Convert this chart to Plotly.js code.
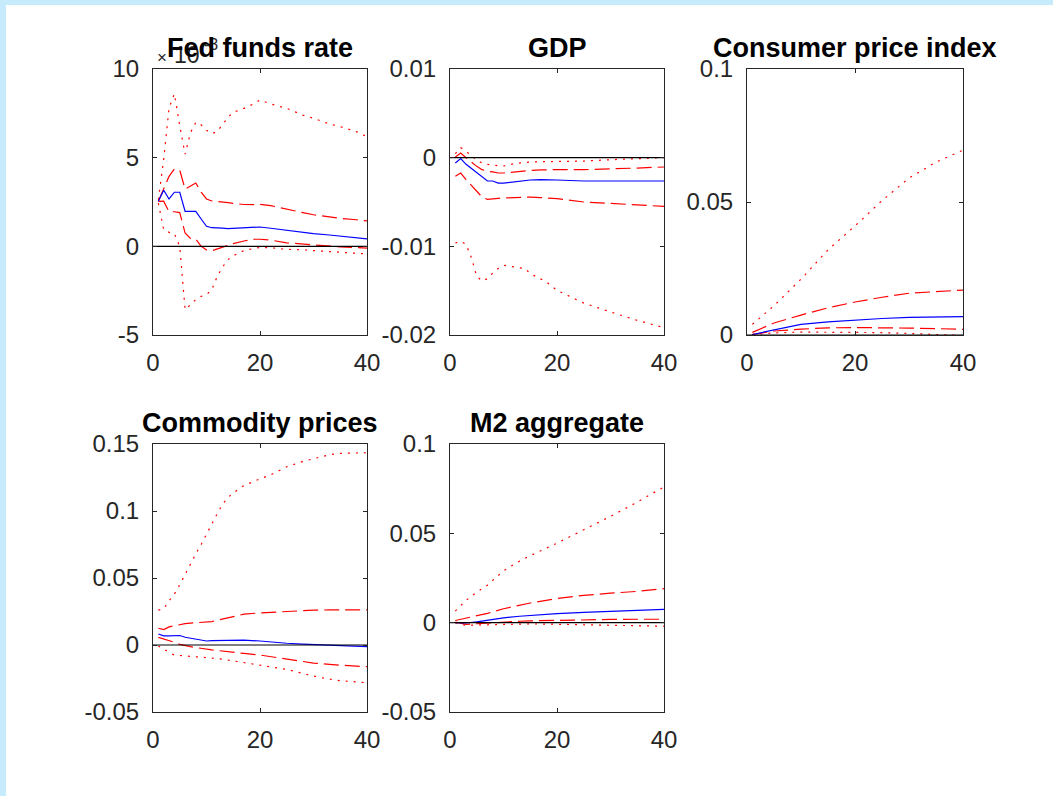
<!DOCTYPE html>
<html>
<head>
<meta charset="utf-8">
<script src="https://cdn.plot.ly/plotly-3.0.1.min.js"></script>
<style>
  html, body { margin: 0; padding: 0; background: #ffffff; }
  #chart { width: 1053px; height: 796px; }
</style>
</head>
<body>
<div id="chart"></div>
<script>
// ---- Impulse responses: median (blue), 68% band (dashed), 90% band (dotted) ----

// Fed funds rate (values in units of 1e-3)
const fedH = [1,2,3,4,5,6,7,8,9,10,11,12,13,14,15,17,19,20,22,25,28,30,33,35,38,40];
const fedMedian = [2.54,3.16,2.67,3.05,3.05,1.97,1.97,1.97,1.54,1.13,1.05,1.05,1.03,1.0,1.02,1.07,1.1,1.09,1.02,0.9,0.78,0.72,0.64,0.58,0.5,0.42];
const fedUp68 = [2.54,3.3,3.95,4.36,4.29,3.23,3.38,3.57,3.06,2.67,2.56,2.54,2.5,2.46,2.42,2.36,2.35,2.37,2.3,2.08,1.9,1.78,1.65,1.58,1.5,1.43];
const fedLo68 = [2.54,2.55,1.95,1.95,1.9,0.75,0.45,0.4,0.0,-0.2,-0.25,-0.15,-0.05,0.05,0.15,0.3,0.4,0.4,0.35,0.2,0.12,0.08,0.0,-0.03,-0.07,-0.1];
const fedUp90 = [2.63,4.9,7.8,8.6,6.8,5.2,6.4,7.0,6.85,6.54,6.35,6.48,6.86,7.27,7.56,7.78,8.06,8.25,8.03,7.78,7.4,7.22,6.9,6.75,6.47,6.18];
const fedLo90 = [2.44,0.94,0.79,0.71,0.0,-3.57,-3.3,-3.0,-2.82,-2.73,-2.44,-1.7,-1.17,-0.75,-0.53,-0.24,-0.11,-0.06,-0.08,-0.17,-0.2,-0.24,-0.3,-0.34,-0.4,-0.43];

// GDP
const gdpH = [1,2,3,4,5,6,7,8,9,10,12,14,15,17,18,20,25,30,35,40];
const gdpMedian = [-0.0006,-0.00011,-0.00075,-0.00124,-0.00173,-0.00218,-0.00263,-0.00263,-0.00286,-0.00286,-0.0027,-0.00258,-0.00252,-0.00248,-0.00248,-0.00252,-0.00263,-0.00263,-0.00263,-0.00263];
const gdpUp68 = [0.00008,0.00053,0.0,-0.0005,-0.00098,-0.00135,-0.00154,-0.0016,-0.00173,-0.00173,-0.0016,-0.0015,-0.00143,-0.00138,-0.00136,-0.00135,-0.00135,-0.00128,-0.00117,-0.00105];
const gdpLo68 = [-0.0021,-0.00173,-0.00248,-0.00312,-0.00387,-0.00444,-0.0047,-0.00462,-0.00458,-0.00455,-0.00451,-0.00447,-0.00444,-0.0045,-0.00455,-0.00462,-0.005,-0.00519,-0.00538,-0.00549];
const gdpUp90 = [0.00045,0.00113,0.00071,0.00026,-0.0003,-0.0006,-0.00075,-0.00086,-0.0009,-0.00094,-0.00068,-0.00055,-0.00049,-0.00046,-0.00045,-0.00045,-0.00038,-0.00023,-0.00008,0.0];
const gdpLo90 = [-0.00962,-0.00944,-0.00977,-0.01128,-0.01338,-0.01391,-0.01365,-0.013,-0.0125,-0.01214,-0.01233,-0.0125,-0.01308,-0.0137,-0.014,-0.01496,-0.0164,-0.0174,-0.01835,-0.01917];

// Consumer price index
const cpiH = [1,5,10,15,20,25,30,35,40];
const cpiMedian = [0.0002,0.002,0.004,0.0049,0.0056,0.0062,0.0066,0.0068,0.0069];
const cpiUp68 = [0.001,0.0045,0.0075,0.0102,0.0124,0.0142,0.0157,0.0164,0.0169];
const cpiLo68 = [0.0002,0.0015,0.0022,0.0027,0.0028,0.0028,0.0026,0.0024,0.0021];
const cpiUp90 = [0.004,0.011,0.021,0.032,0.041,0.0505,0.059,0.065,0.0695];
const cpiLo90 = [0.0002,0.0008,0.0011,0.0011,0.001,0.0009,0.0006,0.0002,-0.0002];

// Commodity prices
const comH = [1,2,3,4,5,6,7,8,9,10,11,12,13,14,15,17,20,22,25,28,30,33,35,38,40];
const comMedian = [0.0082,0.0068,0.0068,0.007,0.0071,0.0058,0.0052,0.0045,0.0038,0.003,0.0033,0.0034,0.0033,0.0035,0.0037,0.0036,0.003,0.0022,0.0013,0.0007,0.0004,0.0001,0.0,-0.0006,-0.0012];
const comUp68 = [0.0125,0.0115,0.0135,0.0145,0.0155,0.016,0.0163,0.0165,0.0167,0.017,0.0175,0.0185,0.0195,0.0205,0.0215,0.023,0.024,0.0245,0.0252,0.0257,0.026,0.0262,0.0262,0.0262,0.0262];
const comLo68 = [0.0057,0.0045,0.0035,0.002,0.0005,-0.0005,-0.0012,-0.0019,-0.0026,-0.0032,-0.0037,-0.0041,-0.0046,-0.005,-0.0055,-0.0063,-0.0075,-0.0088,-0.0107,-0.0124,-0.0135,-0.0145,-0.0152,-0.0158,-0.0162];
const comUp90 = [0.026,0.027,0.033,0.038,0.045,0.053,0.061,0.068,0.075,0.083,0.091,0.098,0.105,0.11,0.1135,0.119,0.124,0.127,0.133,0.137,0.139,0.142,0.143,0.1435,0.1435];
const comLo90 = [-0.0007,-0.0032,-0.0055,-0.0075,-0.008,-0.0083,-0.0085,-0.0088,-0.009,-0.0092,-0.0096,-0.0101,-0.0106,-0.0112,-0.0117,-0.0128,-0.015,-0.0163,-0.0182,-0.0212,-0.0232,-0.0255,-0.0267,-0.0275,-0.0282];

// M2 aggregate
const m2H = [1,3,5,7,10,13,15,20,25,30,35,40];
const m2Median = [0.0,-0.0002,0.0004,0.0013,0.0027,0.0036,0.0041,0.0051,0.0058,0.0064,0.0069,0.0074];
const m2Up68 = [0.0012,0.0025,0.0038,0.0052,0.0078,0.0097,0.011,0.0135,0.0153,0.0165,0.0175,0.019];
const m2Lo68 = [0.0003,-0.001,-0.0006,-0.0002,0.0005,0.0008,0.001,0.0014,0.0017,0.0018,0.0019,0.0019];
const m2Up90 = [0.0065,0.0125,0.017,0.021,0.029,0.0345,0.0375,0.0445,0.052,0.0595,0.0675,0.076];
const m2Lo90 = [-0.0002,-0.0015,-0.0013,-0.0011,-0.0009,-0.0008,-0.0007,-0.0009,-0.0011,-0.0013,-0.0016,-0.002];

// zero reference line
const zeroH = [0, 40];
const zeroV = [0, 0];

// panel titles and tick labels
const titles = ['Fed funds rate', 'GDP', 'Consumer price index', 'Commodity prices', 'M2 aggregate'];
const xTickVals = [0, 20, 40];
const xTickText = ['0', '20', '40'];
const fedTickVals = [-5, 0, 5, 10];
const fedTickText = ['-5', '0', '5', '10'];
const fedExponent = ['×', '10', '-3'];
const gdpTickVals = [-0.02, -0.01, 0, 0.01];
const gdpTickText = ['-0.02', '-0.01', '0', '0.01'];
const cpiTickVals = [0, 0.05, 0.1];
const cpiTickText = ['0', '0.05', '0.1'];
const comTickVals = [-0.05, 0, 0.05, 0.1, 0.15];
const comTickText = ['-0.05', '0', '0.05', '0.1', '0.15'];
const m2TickVals = [-0.05, 0, 0.05, 0.1];
const m2TickText = ['-0.05', '0', '0.05', '0.1'];

// ---- drawing ----
const W = 1053, H = 796;
const px = v => v / W;
const py = v => 1 - v / H;

const panels = [
  { h: fedH, med: fedMedian, u68: fedUp68, l68: fedLo68, u90: fedUp90, l90: fedLo90,
    range: [-5, 10], tv: fedTickVals, tt: fedTickText, x: [153, 367], y: [69, 335] },
  { h: gdpH, med: gdpMedian, u68: gdpUp68, l68: gdpLo68, u90: gdpUp90, l90: gdpLo90,
    range: [-0.02, 0.01], tv: gdpTickVals, tt: gdpTickText, x: [450, 664], y: [69, 335] },
  { h: cpiH, med: cpiMedian, u68: cpiUp68, l68: cpiLo68, u90: cpiUp90, l90: cpiLo90,
    range: [0, 0.1], tv: cpiTickVals, tt: cpiTickText, x: [747, 963], y: [69, 335] },
  { h: comH, med: comMedian, u68: comUp68, l68: comLo68, u90: comUp90, l90: comLo90,
    range: [-0.05, 0.15], tv: comTickVals, tt: comTickText, x: [153, 367], y: [444, 712] },
  { h: m2H, med: m2Median, u68: m2Up68, l68: m2Lo68, u90: m2Up90, l90: m2Lo90,
    range: [-0.05, 0.1], tv: m2TickVals, tt: m2TickText, x: [450, 664], y: [444, 712] }
];

const RED = '#ff0000', BLUE = '#0000ff';
const DASH = '15px,6px';
const DOT = '2px,6px';
const FAMILY = 'Liberation Sans, Arial, Helvetica, sans-serif';
const tickFont = { family: FAMILY, size: 24, color: '#262626' };

const data = [];
const layout = {
  width: W, height: H,
  margin: { l: 0, r: 0, t: 0, b: 0 },
  paper_bgcolor: '#ffffff',
  plot_bgcolor: '#ffffff',
  showlegend: false,
  font: tickFont,
  annotations: [],
  shapes: [
    { type: 'rect', xref: 'paper', yref: 'paper', x0: 0, x1: px(6), y0: 0, y1: 1,
      fillcolor: 'rgb(198,236,252)', line: { width: 0 }, layer: 'below' },
    { type: 'rect', xref: 'paper', yref: 'paper', x0: 0, x1: 1, y0: py(5), y1: 1,
      fillcolor: 'rgb(198,236,252)', line: { width: 0 }, layer: 'below' }
  ]
};

const axisCommon = {
  showline: true, linecolor: '#262626', linewidth: 1, mirror: 'ticks',
  ticks: 'inside', ticklen: 4, tickwidth: 1, tickcolor: '#262626',
  showgrid: false, zeroline: false, fixedrange: true,
  tickfont: tickFont, tickmode: 'array'
};

// exponent label of the first panel's y axis, in three pieces (drawn before titles so the title sits on top)
const expParts = [
  { text: fedExponent[0], x: 156, y: 57, size: 17 },
  { text: fedExponent[1], x: 173, y: 55, size: 23 },
  { text: fedExponent[2], x: 203, y: 45, size: 16 }
];
expParts.forEach(e => layout.annotations.push({
  text: e.text, xref: 'paper', yref: 'paper', x: px(e.x), y: py(e.y),
  xanchor: 'left', yanchor: 'middle', borderpad: 0, showarrow: false,
  font: { family: FAMILY, size: e.size, color: '#262626' }
}));

panels.forEach((p, i) => {
  const n = i + 1;
  const xa = 'x' + (n === 1 ? '' : n);
  const ya = 'y' + (n === 1 ? '' : n);
  const line = (h, v, color, dash) => ({
    type: 'scatter', mode: 'lines', x: h, y: v, xaxis: xa, yaxis: ya,
    line: { color: color, width: 1.2, dash: dash }, hoverinfo: 'skip'
  });
  data.push(line(p.h, p.u90, RED, DOT));
  data.push(line(p.h, p.l90, RED, DOT));
  data.push(line(p.h, p.u68, RED, DASH));
  data.push(line(p.h, p.l68, RED, DASH));
  data.push(line(p.h, p.med, BLUE, 'solid'));
  data.push(line(zeroH, zeroV, '#000000', 'solid'));

  layout['xaxis' + (n === 1 ? '' : n)] = Object.assign({}, axisCommon, {
    domain: [px(p.x[0]), px(p.x[1])], anchor: ya, range: [0, 40],
    tickvals: xTickVals, ticktext: xTickText, ticklabelstandoff: 6
  });
  layout['yaxis' + (n === 1 ? '' : n)] = Object.assign({}, axisCommon, {
    domain: [py(p.y[1]), py(p.y[0])], anchor: xa, range: p.range,
    tickvals: p.tv, ticktext: p.tt, ticklabelstandoff: 8
  });

  layout.annotations.push({
    text: '<b>' + titles[i] + '</b>', xref: 'paper', yref: 'paper',
    x: px((p.x[0] + p.x[1]) / 2), y: py(p.y[0]), xanchor: 'center', yanchor: 'bottom', yshift: 4,
    showarrow: false, font: { family: FAMILY, size: 27, color: '#000000' }
  });
});

Plotly.newPlot('chart', data, layout, { staticPlot: true, displayModeBar: false });
</script>
</body>
</html>
